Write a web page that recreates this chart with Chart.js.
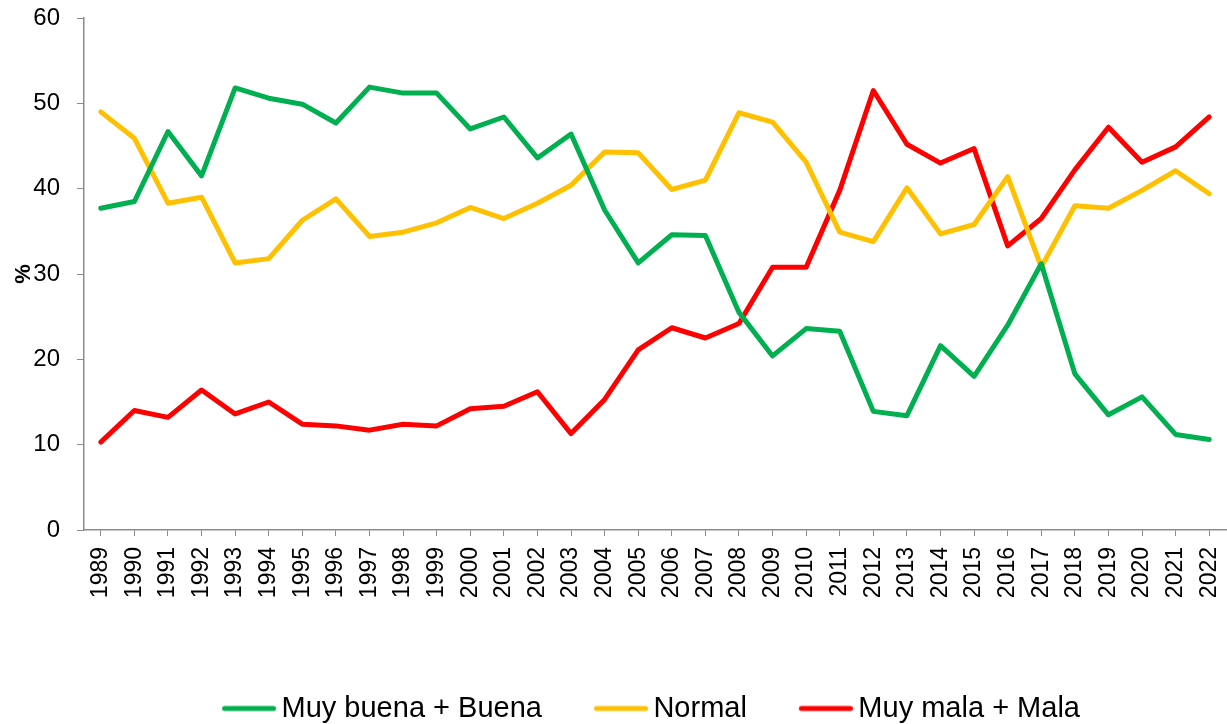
<!DOCTYPE html>
<html>
<head>
<meta charset="utf-8">
<script src="https://cdn.jsdelivr.net/npm/chart.js@4.4.1/dist/chart.umd.min.js"></script>
<style>
  html, body { margin: 0; padding: 0; background: #ffffff; }
  #wrap { width: 1227px; height: 724px; }
</style>
</head>
<body>
<div id="wrap"><canvas id="c" width="1227" height="724"></canvas></div>
<script>
const years = ['1989','1990','1991','1992','1993','1994','1995','1996','1997','1998','1999','2000','2001','2002','2003','2004','2005','2006','2007','2008','2009','2010','2011','2012','2013','2014','2015','2016','2017','2018','2019','2020','2021','2022'];
const muyBuenaBuena = [37.7,38.5,46.7,41.5,51.8,50.6,49.9,47.7,51.9,51.2,51.2,47.0,48.4,43.6,46.4,37.5,31.3,34.6,34.5,25.5,20.4,23.6,23.3,13.9,13.4,21.6,18.0,24.0,31.2,18.3,13.5,15.6,11.2,10.6];
const normal = [49.0,45.9,38.3,39.0,31.3,31.8,36.3,38.8,34.4,34.9,36.0,37.8,36.5,38.3,40.4,44.3,44.2,39.9,41.0,48.9,47.8,43.1,34.9,33.8,40.1,34.7,35.8,41.4,30.8,38.0,37.7,39.8,42.1,39.4];
const muyMalaMala = [10.3,14.0,13.2,16.4,13.6,15.0,12.4,12.2,11.7,12.4,12.2,14.2,14.5,16.2,11.3,15.3,21.1,23.7,22.5,24.2,30.8,30.8,39.8,51.5,45.2,43.0,44.7,33.3,36.5,42.2,47.2,43.1,44.9,48.4];
const seriesNames = ['Muy buena + Buena','Normal','Muy mala + Mala'];
const yTitle = '%';

const FONT = '"Liberation Sans", Arial, sans-serif';
const axisColor = '#8c8c8c';

// legend marker: a short thick line, drawn slightly left-shifted inside its image
function legendLine(color) {
  const c = document.createElement('canvas');
  c.width = 63; c.height = 8;
  const g = c.getContext('2d');
  g.strokeStyle = color; g.lineWidth = 5; g.lineCap = 'round';
  g.beginPath(); g.moveTo(11.5, 4); g.lineTo(60.5, 4); g.stroke();
  return c;
}

function ds(label, data, color) {
  return {
    label, data,
    borderColor: color, backgroundColor: color,
    borderWidth: 5, pointRadius: 0, pointHoverRadius: 0,
    tension: 0, borderJoinStyle: 'round', borderCapStyle: 'round',
    pointStyle: legendLine(color), fill: false
  };
}

const shiftLegend = {
  id: 'shiftLegend',
  afterLayout(chart) {
    const lg = chart.legend;
    if (lg) { lg.left += 38; lg.right += 38; }
  }
};

new Chart(document.getElementById('c'), {
  type: 'line',
  data: {
    labels: years,
    datasets: [
      ds(seriesNames[0], muyBuenaBuena, '#00B050'),
      ds(seriesNames[1], normal, '#FFC000'),
      ds(seriesNames[2], muyMalaMala, '#FF0000')
    ]
  },
  plugins: [shiftLegend],
  options: {
    responsive: false,
    animation: false,
    events: [],
    layout: { padding: { top: 18, left: 0, right: 1, bottom: -9 } },
    plugins: {
      tooltip: { enabled: false },
      legend: {
        position: 'bottom',
        labels: {
          usePointStyle: true,
          pointStyleWidth: 45,
          boxHeight: 10,
          color: '#000',
          padding: 52,
          font: { family: FONT, size: 29 }
        }
      }
    },
    scales: {
      x: {
        type: 'category',
        offset: true,
        grid: { display: true, drawOnChartArea: false, offset: false, color: axisColor, tickLength: 6, tickWidth: 1 },
        border: { display: true, color: axisColor, width: 1.5 },
        ticks: { color: '#000', minRotation: 90, maxRotation: 90, autoSkip: false, padding: 11, font: { family: FONT, size: 23 } },
        afterFit: (s) => { s.height = 112; s.paddingLeft = 0; s.paddingRight = 0; }
      },
      y: {
        min: 0, max: 60,
        ticks: { stepSize: 10, color: '#000', padding: 17, font: { family: FONT, size: 24 } },
        grid: { display: true, drawOnChartArea: false, color: axisColor, tickLength: 7 },
        border: { display: true, color: axisColor, width: 1.5 },
        title: { display: true, text: yTitle, color: '#000', font: { family: FONT, size: 22, weight: 'bold' }, padding: { top: 11, bottom: 0 } },
        afterFit: (s) => { s.width = 84; s.paddingTop = 0; s.paddingBottom = 0; }
      }
    }
  }
});
</script>
</body>
</html>
